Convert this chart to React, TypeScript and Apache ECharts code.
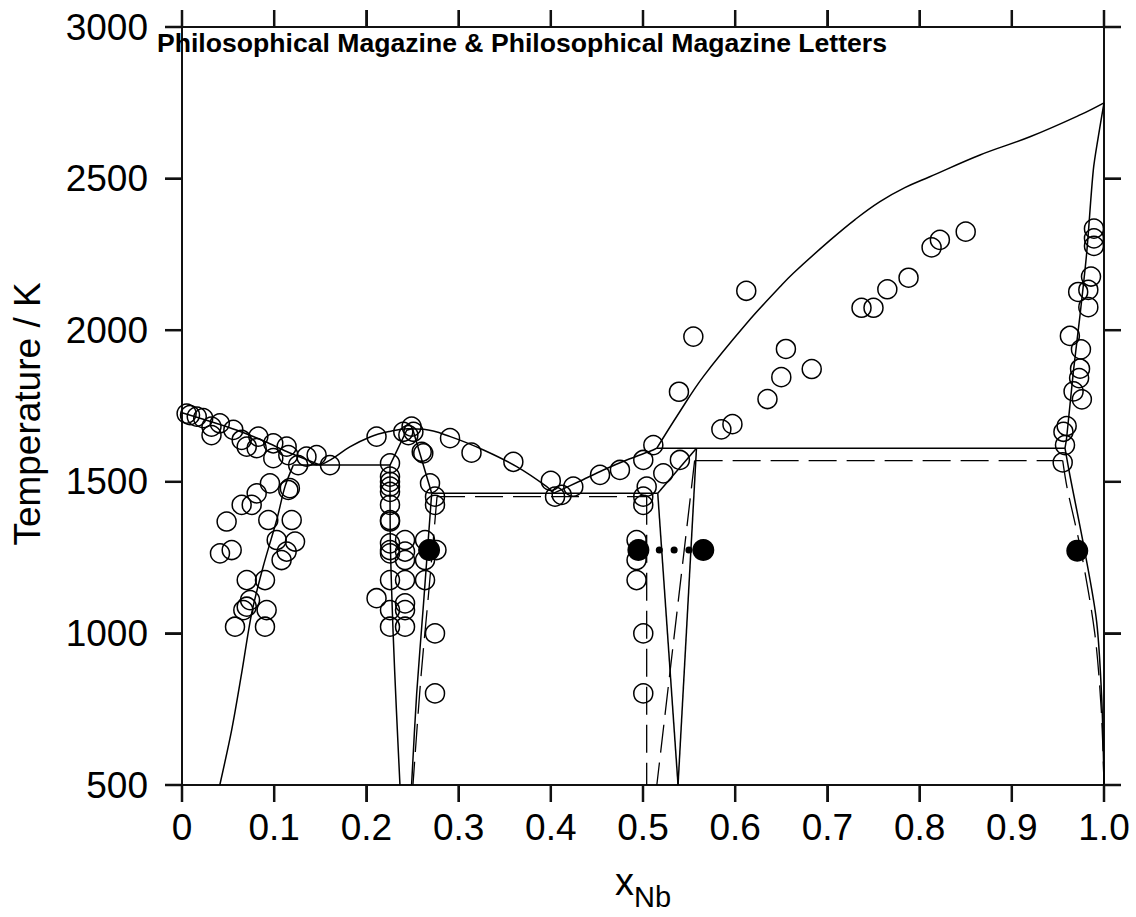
import React, { useEffect, useRef } from "react";
import * as echarts from "echarts";

// ---------- tick labels ----------
const xTicks = [0, 0.1, 0.2, 0.3, 0.4, 0.5, 0.6, 0.7, 0.8, 0.9, 1.0];
const yTicks = [500, 1000, 1500, 2000, 2500, 3000];
const titleText = "Philosophical Magazine & Philosophical Magazine Letters";
const yName = "Temperature / K";

// ---------- calculated phase boundaries (solid) ----------
const niLiquidus = [[0, 1728], [0.03, 1700], [0.059, 1671], [0.09, 1633], [0.1135, 1600], [0.15, 1555]];
const eutectic1 = [[0.1207, 1555], [0.2256, 1555]];
const niSolvus = [[0.041, 500], [0.0539, 682], [0.0647, 869], [0.0756, 1067], [0.088, 1220], [0.1027, 1374], [0.1117, 1484], [0.1207, 1555]];
const ni3NbLiquidus = [[0.15, 1555], [0.161, 1572], [0.182, 1615], [0.204, 1648], [0.225, 1666], [0.245, 1675], [0.262, 1673], [0.291, 1649], [0.327, 1605], [0.363, 1550], [0.3956, 1484], [0.4027, 1462]];
const ni3NbLeft = [[0.2364, 500], [0.2325, 750], [0.229, 1000], [0.226, 1300], [0.2256, 1555]];
const ni3NbTop = [[0.2256, 1555], [0.2437, 1670], [0.25, 1676], [0.2708, 1462]];
const ni3NbRight = [[0.2708, 1462], [0.262, 1100], [0.2545, 800], [0.249, 500]];
const eutectic2 = [[0.2708, 1462], [0.516, 1462]];
const liquidusMid = [[0.4027, 1462], [0.43, 1500], [0.457, 1539], [0.485, 1575], [0.511, 1605], [0.515, 1611]];
const nbLiquidus = [[0.515, 1611], [0.539, 1727], [0.5654, 1847], [0.6125, 2023], [0.6486, 2143], [0.663, 2188], [0.703, 2297], [0.73, 2365], [0.757, 2424], [0.784, 2470], [0.811, 2506], [0.8655, 2578], [0.9197, 2638], [0.974, 2710], [1.0, 2750]];
const peritectic = [[0.515, 1611], [0.9577, 1611]];
const ni6Nb7Top = [[0.516, 1462], [0.558, 1611]];
const ni6Nb7Left = [[0.516, 1462], [0.538, 500]];
const ni6Nb7Right = [[0.558, 1611], [0.538, 500]];
const nbSolidus = [[0.9577, 1611], [0.9595, 1646], [0.9667, 1861], [0.974, 2050], [0.9812, 2254], [0.9884, 2528], [0.9938, 2638], [1.0, 2750]];
const nbSolvus = [[0.9577, 1611], [0.9631, 1520], [0.979, 1273], [0.992, 1039], [0.9975, 787], [1.0, 500]];

// ---------- calculated phase boundaries (dashed) ----------
const ni3NbRightDash = [[0.2766, 1451], [0.268, 1150], [0.259, 850], [0.2505, 500]];
const eutectic2Dash = [[0.2766, 1451], [0.504, 1451]];
const ni6Nb7LeftDash = [[0.504, 1451], [0.504, 500]];
const ni6Nb7RightDash = [[0.556, 1570], [0.515, 500]];
const peritecticDash = [[0.556, 1570], [0.9552, 1570]];
const nbSolvusDash = [[0.9552, 1570], [0.96, 1480], [0.975, 1273], [0.99, 1000], [0.997, 750], [1.0, 500]];

// ---------- tie line (dotted) ----------
const tieLine = [[0.5016, 1275], [0.5654, 1275]];

// ---------- experimental points ----------
const niLiquidusPts = [[0.005, 1725], [0.0087, 1720], [0.016, 1715], [0.023, 1710], [0.032, 1682], [0.032, 1654], [0.041, 1693], [0.0557, 1671], [0.0647, 1638], [0.0702, 1616], [0.081, 1611], [0.0828, 1649], [0.099, 1627], [0.099, 1578], [0.1135, 1616], [0.1153, 1588], [0.126, 1555], [0.135, 1583], [0.146, 1588], [0.1605, 1555]];
const niSolvusPts = [[0.0954, 1495], [0.1153, 1473], [0.117, 1479], [0.081, 1462], [0.0756, 1424], [0.0647, 1424], [0.0484, 1369], [0.0936, 1374], [0.119, 1374], [0.1027, 1308], [0.1226, 1303], [0.1135, 1270], [0.108, 1242], [0.0412, 1264], [0.0539, 1275], [0.0702, 1176], [0.09, 1176], [0.0738, 1110], [0.0702, 1088], [0.0665, 1077], [0.0918, 1077], [0.0575, 1022], [0.09, 1022]];
const ni3NbPts = [[0.211, 1649], [0.24, 1665], [0.249, 1682], [0.251, 1665], [0.2455, 1654], [0.26, 1599], [0.2617, 1594], [0.2907, 1644], [0.314, 1596], [0.3594, 1566], [0.4, 1503], [0.269, 1495], [0.2744, 1451], [0.2744, 1424], [0.2256, 1561], [0.2256, 1517], [0.2256, 1500], [0.2256, 1484], [0.2256, 1467], [0.2256, 1424], [0.2256, 1374], [0.2256, 1369], [0.2256, 1297], [0.2256, 1275], [0.2256, 1264], [0.2256, 1176], [0.2256, 1077], [0.2256, 1022], [0.211, 1116], [0.2419, 1308], [0.2419, 1270], [0.2419, 1242], [0.2419, 1176], [0.2419, 1099], [0.2419, 1077], [0.2419, 1022], [0.2636, 1308], [0.2636, 1242], [0.2636, 1176], [0.276, 1275], [0.2744, 1000], [0.2744, 802]];
const ni6Nb7Pts = [[0.4046, 1451], [0.4118, 1457], [0.4244, 1484], [0.4534, 1523], [0.475, 1539], [0.5003, 1572], [0.5112, 1621], [0.522, 1528], [0.54, 1572], [0.504, 1484], [0.5003, 1451], [0.5003, 1424], [0.493, 1308], [0.493, 1242], [0.493, 1176], [0.5003, 1000], [0.5003, 802]];
const nbLiquidusPts = [[0.539, 1797], [0.5546, 1979], [0.612, 2130], [0.585, 1673], [0.597, 1690], [0.635, 1773], [0.65, 1845], [0.655, 1938], [0.683, 1872], [0.737, 2074], [0.75, 2074], [0.765, 2135], [0.788, 2173], [0.813, 2273], [0.822, 2298], [0.85, 2325]];
const nbSolidPts = [[0.9891, 2335], [0.9891, 2303], [0.9891, 2278], [0.9859, 2177], [0.983, 2133], [0.972, 2126], [0.983, 2076], [0.963, 1981], [0.975, 1937], [0.974, 1873], [0.973, 1842], [0.967, 1798], [0.976, 1772], [0.9595, 1684], [0.956, 1665], [0.9577, 1621], [0.9552, 1564]];
const filledPts = [[0.268, 1275], [0.495, 1275], [0.5654, 1275], [0.971, 1273]];

const FONT = "'Liberation Sans', Arial, Helvetica, sans-serif";
const AX = "#111";
const TICK_LEN = 17;
const X_MIN = 0, X_MAX = 1, Y_MIN = 500, Y_MAX = 3000;

const solid = (data: number[][], smooth: number | boolean = false) => ({
  type: "line",
  data,
  showSymbol: false,
  symbol: "none",
  smooth,
  clip: false,
  silent: true,
  z: 2,
  lineStyle: { color: "#000", width: 1.5 },
});
const dashed = (data: number[][], smooth: number | boolean = false) => ({
  type: "line",
  data,
  showSymbol: false,
  symbol: "none",
  smooth,
  clip: false,
  silent: true,
  z: 2,
  lineStyle: { color: "#000", width: 1.3, type: [28, 10] },
});

const mkLine = () => ({ show: true, onZero: false, lineStyle: { color: AX, width: 2 } });
const mkTick = () => ({ show: true, inside: false, length: TICK_LEN, lineStyle: { color: AX, width: 2 } });

const titleGraphic = {
  type: "text",
  id: "title",
  x: 157,
  y: 43,
  z: 10,
  style: {
    text: titleText,
    fontFamily: FONT,
    fontWeight: "bold",
    fontSize: 26.6,
    fill: "#000",
    align: "left",
    verticalAlign: "middle",
  },
};

export default function App() {
  const ref = useRef<HTMLDivElement>(null);
  useEffect(() => {
    if (!ref.current) return;
    const chart = echarts.init(ref.current, null, { renderer: "svg" });
    const openStyle = { color: "rgba(0,0,0,0)", borderColor: "#000", borderWidth: 1.5, opacity: 1 };
    const open = (data: number[][]) => ({
      type: "scatter",
      data,
      symbol: "circle",
      symbolSize: 19,
      clip: false,
      silent: true,
      z: 3,
      itemStyle: openStyle,
    });
    chart.setOption({
      animation: false,
      backgroundColor: "#fff",
      grid: { left: 182, right: 32, top: 27, bottom: 132, containLabel: false },
      graphic: [titleGraphic],
      xAxis: [
        {
          type: "value",
          min: X_MIN,
          max: X_MAX,
          interval: 0.1,
          position: "bottom",
          axisLine: mkLine(),
          axisTick: mkTick(),
          splitLine: { show: false },
          axisLabel: {
            show: true,
            margin: 24,
            color: "#000",
            fontFamily: FONT,
            fontSize: 37,
            formatter: (v: number) => {
              const i = xTicks.findIndex((t) => Math.abs(t - v) < 1e-6);
              if (i < 0) return "";
              return xTicks[i] === 0 ? "0" : xTicks[i].toFixed(1);
            },
          },
          name: "{a|x}{b|Nb}",
          nameLocation: "middle",
          nameGap: 78,
          nameTextStyle: {
            color: "#000",
            fontFamily: FONT,
            rich: {
              a: { fontSize: 38, fontFamily: FONT, color: "#000", padding: [0, 0, 10, 0], verticalAlign: "bottom" },
              b: { fontSize: 29, fontFamily: FONT, color: "#000", verticalAlign: "bottom" },
            },
          },
        },
        {
          type: "value",
          min: X_MIN,
          max: X_MAX,
          interval: 0.1,
          position: "top",
          axisLine: mkLine(),
          axisTick: mkTick(),
          splitLine: { show: false },
          axisLabel: { show: false },
        },
      ],
      yAxis: [
        {
          type: "value",
          min: Y_MIN,
          max: Y_MAX,
          interval: 500,
          position: "left",
          axisLine: mkLine(),
          axisTick: mkTick(),
          splitLine: { show: false },
          axisLabel: {
            show: true,
            margin: 34,
            color: "#000",
            fontFamily: FONT,
            fontSize: 37,
            formatter: (v: number) => (yTicks.indexOf(v) >= 0 ? String(v) : ""),
          },
          name: yName,
          nameLocation: "middle",
          nameRotate: 90,
          nameGap: 136,
          nameTextStyle: { color: "#000", fontFamily: FONT, fontSize: 37, padding: [0, 16, 0, 0] },
        },
        {
          type: "value",
          min: Y_MIN,
          max: Y_MAX,
          interval: 500,
          position: "right",
          axisLine: mkLine(),
          axisTick: mkTick(),
          splitLine: { show: false },
          axisLabel: { show: false },
        },
      ],
      series: [
        solid(niLiquidus, 0.3),
        solid(eutectic1),
        solid(niSolvus, 0.3),
        solid(ni3NbLiquidus, 0.4),
        solid(ni3NbLeft, 0.3),
        solid(ni3NbTop),
        solid(ni3NbRight, 0.3),
        solid(eutectic2),
        solid(liquidusMid, 0.3),
        solid(nbLiquidus, 0.4),
        solid(peritectic),
        solid(ni6Nb7Top),
        solid(ni6Nb7Left),
        solid(ni6Nb7Right),
        solid(nbSolidus, 0.3),
        solid(nbSolvus, 0.3),
        dashed(ni3NbRightDash, 0.3),
        dashed(eutectic2Dash),
        dashed(ni6Nb7LeftDash),
        dashed(ni6Nb7RightDash),
        dashed(peritecticDash),
        dashed(nbSolvusDash, 0.3),
        {
          type: "line",
          data: tieLine,
          showSymbol: false,
          symbol: "none",
          clip: false,
          silent: true,
          z: 2,
          lineStyle: { color: "#000", width: 7, type: [0.1, 14.7], cap: "round" },
        },
        open(niLiquidusPts),
        open(niSolvusPts),
        open(ni3NbPts),
        open(ni6Nb7Pts),
        open(nbLiquidusPts),
        open(nbSolidPts),
        {
          type: "scatter",
          data: filledPts,
          symbol: "circle",
          symbolSize: 22,
          clip: false,
          silent: true,
          z: 4,
          itemStyle: { color: "#000", opacity: 1 },
        },
      ],
    });

    // outward ticks on all four sides, placed through the axes' own scales
    const finder = { xAxisIndex: 0, yAxisIndex: 0 };
    const tickEls: any[] = [];
    const st = { stroke: AX, lineWidth: 2.5 };
    xTicks.forEach((v, i) => {
      const b = chart.convertToPixel(finder, [v, Y_MIN]) as number[];
      const t = chart.convertToPixel(finder, [v, Y_MAX]) as number[];
      if (!b || !t) return;
      tickEls.push({ type: "line", id: "xb" + i, z: 20, silent: true, shape: { x1: b[0], y1: b[1], x2: b[0], y2: b[1] + TICK_LEN }, style: st });
      tickEls.push({ type: "line", id: "xt" + i, z: 20, silent: true, shape: { x1: t[0], y1: t[1], x2: t[0], y2: t[1] - TICK_LEN }, style: st });
    });
    yTicks.forEach((v, i) => {
      const l = chart.convertToPixel(finder, [X_MIN, v]) as number[];
      const r = chart.convertToPixel(finder, [X_MAX, v]) as number[];
      if (!l || !r) return;
      tickEls.push({ type: "line", id: "yl" + i, z: 20, silent: true, shape: { x1: l[0], y1: l[1], x2: l[0] - TICK_LEN, y2: l[1] }, style: st });
      tickEls.push({ type: "line", id: "yr" + i, z: 20, silent: true, shape: { x1: r[0], y1: r[1], x2: r[0] + TICK_LEN, y2: r[1] }, style: st });
    });
    chart.setOption({ graphic: [titleGraphic, ...tickEls] });

    return () => chart.dispose();
  }, []);
  return (
    <div
      ref={ref}
      style={{ position: "fixed", left: 0, top: 0, width: 1136, height: 917, background: "#fff" }}
    />
  );
}
